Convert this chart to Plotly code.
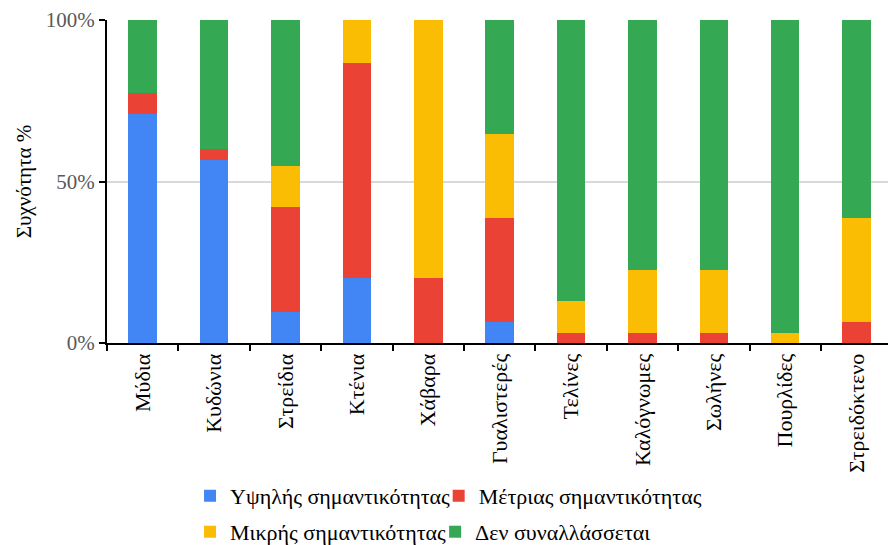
import plotly.graph_objects as go

categories = ["Μύδια", "Κυδώνια", "Στρείδια", "Κτένια", "Χάβαρα", "Γυαλιστερές",
              "Τελίνες", "Καλόγνωμες", "Σωλήνες", "Πουρλίδες", "Στρειδόκτενο"]
high = [71.0, 56.7, 9.7, 20.0, 0.0, 6.5, 0.0, 0.0, 0.0, 0.0, 0.0]
medium = [6.5, 3.3, 32.3, 66.7, 20.0, 32.3, 3.2, 3.2, 3.2, 0.0, 6.5]
low = [0.0, 0.0, 12.9, 13.3, 80.0, 25.8, 9.7, 19.4, 19.4, 3.2, 32.3]
none_ = [22.5, 40.0, 45.1, 0.0, 0.0, 35.4, 87.1, 77.4, 77.4, 96.8, 61.2]

y_tickvals = [0, 50, 100]
y_ticktext = ["0%", "50%", "100%"]

series_names = ["Υψηλής σημαντικότητας", "Μέτριας σημαντικότητας",
                "Μικρής σημαντικότητας", "Δεν συναλλάσσεται"]
colors = ["#4285F4", "#EA4335", "#FBBC04", "#34A853"]
legends = ["legend", "legend2", "legend3", "legend4"]
legend_pos = [(0.214, 0.09), (0.494, 0.09), (0.214, 0.024), (0.490, 0.024)]

FONT = "Liberation Serif"
fig = go.Figure()
for name, vals, col, lg in zip(series_names, [high, medium, low, none_], colors, legends):
    fig.add_trace(go.Bar(x=categories, y=vals, name=name, marker_color=col,
                         marker_line_width=0, legend=lg, showlegend=True))

fig.update_layout(
    barmode="stack",
    bargap=0.6,
    showlegend=True,
    width=888, height=545,
    margin=dict(l=107, r=0, t=20, b=202),
    plot_bgcolor="white", paper_bgcolor="white",
    font=dict(family=FONT, size=22, color="black"),
)
for lg, (lx, ly) in zip(legends, legend_pos):
    fig.update_layout({lg: dict(orientation="h", xref="container", yref="container",
                                x=lx, xanchor="left", y=ly, yanchor="middle",
                                traceorder="normal", visible=True,
                                font=dict(family=FONT, size=22, color="black"),
                                itemwidth=30, tracegroupgap=0,
                                bgcolor="rgba(0,0,0,0)")})

fig.update_xaxes(
    range=[-0.5, 10.44],
    showline=True, linecolor="black", linewidth=2,
    ticks="outside", tickson="boundaries", ticklen=6, tickwidth=2, tickcolor="black",
    tickangle=-90, tickfont=dict(family=FONT, size=22, color="black"),
    showgrid=False,
)
fig.update_yaxes(
    range=[0, 100], tickvals=y_tickvals, ticktext=y_ticktext,
    showline=True, linecolor="black", linewidth=2,
    ticks="outside", ticklen=6, tickwidth=2, tickcolor="black",
    tickfont=dict(family=FONT, size=21, color="#595959"),
    showgrid=True, gridcolor="#d9d9d9", gridwidth=2, zeroline=False,
    title=dict(text="Συχνότητα %", font=dict(family=FONT, size=21, color="black"), standoff=8),
)

fig.write_html("out.html")
